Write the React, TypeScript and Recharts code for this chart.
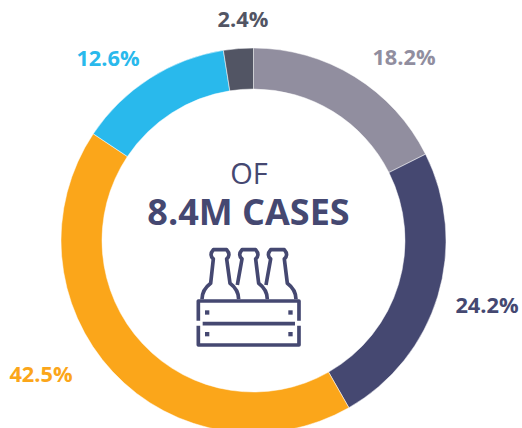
import React from 'react';
import { PieChart, Pie, Cell } from 'recharts';

// printed shares, and the arc sizes as measured off the ring (they differ slightly)
const shareLabels = ['18.2%', '24.2%', '42.5%', '12.6%', '2.4%'];
const arcShares = [17.6, 24.15, 42.6, 13.15, 2.5];
const sliceColors = ['#918e9f', '#454871', '#fba61a', '#29b9ec', '#525564'];
const labelSpots = [
    { x: 404, y: 65 },
    { x: 487, y: 313 },
    { x: 41, y: 382 },
    { x: 108, y: 66 },
    { x: 243, y: 27 },
];

const pieData = arcShares.map((value, i) => ({ name: shareLabels[i], value }));
const navy = '#454871';
const font = '"Open Sans", sans-serif';

const CrateIcon = () => (
    <g transform="translate(180,230) scale(0.3333)" fill="none" stroke={navy} strokeWidth={11} strokeLinejoin="round" strokeLinecap="butt">
        <path d="M66 208 C66 190 76 172 92 160 L100 87 C92 80 90 70 100 59 L140 59 C150 70 148 80 140 87 L150 160 C166 172 176 190 176 208" />
        <path d="M172 165 L186 87 C178 80 176 70 186 59 L227 59 C237 70 235 80 227 87 L236 160 C252 172 262 190 262 208" />
        <path d="M258 165 L272 87 C264 80 262 70 272 59 L313 59 C323 70 321 80 313 87 L322 160 C338 172 348 190 348 208" />
        <path d="M55 272 L55 213 L357 213 L357 272" />
        <path d="M55 287 L55 345 L357 345 L357 287" />
        <path d="M68 281 L345 281" />
        <g fill={navy} stroke="none">
            <rect x={75} y={241} width={13} height={13} />
            <rect x={325} y={241} width={13} height={13} />
            <rect x={75} y={306} width={13} height={13} />
            <rect x={325} y={306} width={13} height={13} />
        </g>
    </g>
);

export default function App() {
    return (
        <div style={{ position: 'absolute', left: 0, top: 0, width: 522, height: 428, overflow: 'hidden', background: '#fff' }}>
            <PieChart width={522} height={428} margin={{ top: 0, right: 0, bottom: 0, left: 0 }}>
                <Pie
                    data={pieData}
                    dataKey="value"
                    cx={253.5}
                    cy={240.5}
                    innerRadius={151.5}
                    outerRadius={192.5}
                    startAngle={90}
                    endAngle={-270}
                    stroke="#fff"
                    strokeWidth={0.5}
                    isAnimationActive={false}
                >
                    {pieData.map((d, i) => (
                        <Cell key={d.name} fill={sliceColors[i]} />
                    ))}
                </Pie>
            </PieChart>
            <svg width={522} height={428} style={{ position: 'absolute', left: 0, top: 0 }}>
                {shareLabels.map((label, i) => (
                    <text key={label} x={labelSpots[i].x} y={labelSpots[i].y} textAnchor="middle" fontFamily={font} fontWeight={700} fontSize={21.8} fill={sliceColors[i]}>
                        {label}
                    </text>
                ))}
                <text x={249} y={184} textAnchor="middle" fontFamily={font} fontSize={29} fill={navy}>OF</text>
                <text x={248.5} y={225} textAnchor="middle" fontFamily={font} fontWeight={700} fontSize={36} fill={navy}>8.4M CASES</text>
                <CrateIcon />
            </svg>
        </div>
    );
}
